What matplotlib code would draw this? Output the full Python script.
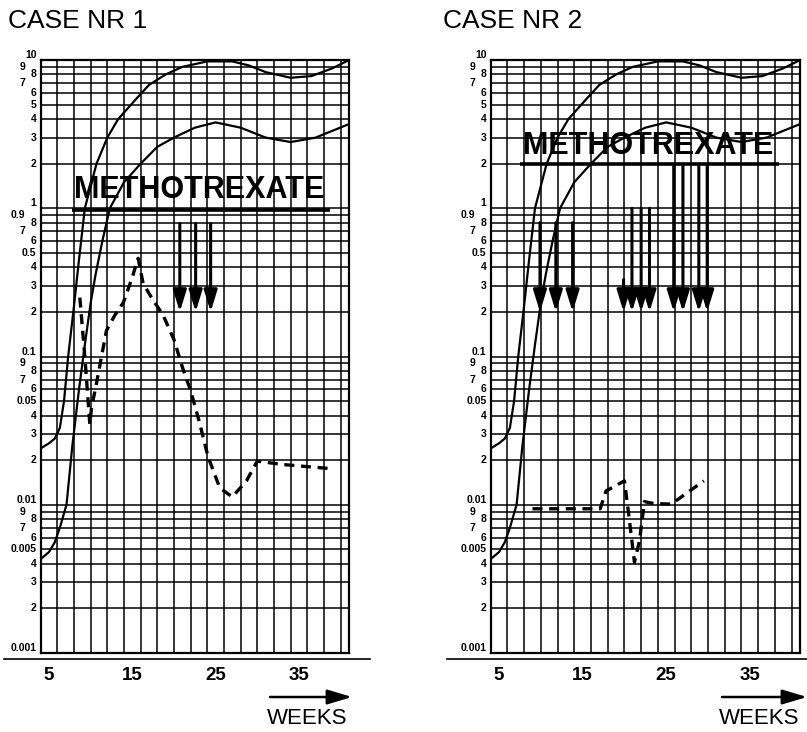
import matplotlib.pyplot as plt
from matplotlib.ticker import FixedLocator, NullFormatter

# Normal range curves printed on both charts (weeks, value)
upper_weeks = [4, 5, 5.7, 6.3, 6.8, 7.3, 8.0, 8.6, 9.3, 10.7, 12, 13.3, 15.5, 17, 19, 21, 24, 27, 29, 31, 34, 36.5, 39, 41]
upper_vals = [0.024, 0.026, 0.028, 0.033, 0.05, 0.1, 0.22, 0.45, 1.0, 2.0, 3.0, 4.0, 5.5, 6.8, 8.0, 9.0, 9.8, 9.8, 9.2, 8.3, 7.6, 7.8, 8.8, 10]
lower_weeks = [4, 5, 5.7, 6.3, 7.1, 7.8, 8.6, 9.3, 10.0, 10.6, 11.4, 12.3, 14, 16, 18, 20, 22.5, 25, 28, 31, 34, 37, 41]
lower_vals = [0.0043, 0.0048, 0.0056, 0.007, 0.01, 0.025, 0.06, 0.12, 0.23, 0.36, 0.6, 1.0, 1.5, 2.0, 2.6, 3.0, 3.5, 3.8, 3.5, 3.0, 2.8, 3.0, 3.7]

# Patient curves (dashed)
case1_weeks = [8.7, 9.3, 9.9, 10.1, 10.7, 11.3, 11.9, 12.9, 13.9, 14.9, 15.7, 16.3, 17.5, 18.7, 20, 21, 22, 23, 24.1, 25.5, 27, 28.7, 30, 33, 39]
case1_vals = [0.25, 0.1, 0.035, 0.045, 0.066, 0.1, 0.15, 0.19, 0.23, 0.33, 0.46, 0.31, 0.24, 0.19, 0.13, 0.085, 0.059, 0.037, 0.021, 0.013, 0.0113, 0.0145, 0.0197, 0.0187, 0.0175]
case2_weeks = [9, 17.1, 17.8, 20, 20.4, 21.2, 21.8, 22.4, 23.5, 25.6, 29.5]
case2_vals = [0.0094, 0.0094, 0.0124, 0.0145, 0.0097, 0.0041, 0.0057, 0.0105, 0.0102, 0.0101, 0.0145]

# Methotrexate doses: week and top of arrow shaft
mtx1_weeks = [20.7, 22.6, 24.4]
mtx1_top = [0.79, 0.79, 0.79]
mtx2_weeks = [9.9, 11.8, 13.8, 19.9, 20.9, 22, 23, 25.9, 27, 28.9, 29.9]
mtx2_top = [0.8, 0.8, 0.8, 0.33, 1.0, 1.0, 1.0, 1.92, 1.92, 1.92, 1.92]
arrow_tip = 0.2

week_ticks = [5, 15, 25, 35]
week_grid = list(range(4, 41, 2))
y_lines = [m * 10.0 ** e for e in range(-3, 1) for m in range(1, 10)] + [10]
y_labels = ["0.001", "2", "3", "4", "0.005", "6", "7", "8", "9",
            "0.01", "2", "3", "4", "0.05", "6", "7", "8", "9",
            "0.1", "2", "3", "4", "0.5", "6", "7", "8", "0.9",
            "1", "2", "3", "4", "5", "6", "7", "8", "9", "10"]

plt.rcParams['font.family'] = ['Liberation Sans', 'DejaVu Sans']

fig = plt.figure(figsize=(8.07, 7.32), dpi=100)

def draw_panel(ax, cw, cv, mw, mt, title_x, title, mtx_x, mtx_y, ul_x, ul_y):
    ax.set_yscale('log')
    ax.set_xlim(4, 41)
    ax.set_ylim(0.001, 10)
    ax.yaxis.set_major_locator(FixedLocator(y_lines))
    ax.yaxis.set_major_formatter(NullFormatter())
    ax.yaxis.set_minor_locator(FixedLocator([]))
    ax.xaxis.set_major_locator(FixedLocator(week_ticks))
    ax.xaxis.set_minor_locator(FixedLocator(week_grid))
    ax.set_xticklabels([str(t) for t in week_ticks], fontsize=13.5, fontweight='bold')
    ax.tick_params(axis='both', which='both', length=0)
    ax.tick_params(axis='x', pad=10)
    ax.grid(True, axis='y', which='major', color='black', lw=1.1)
    ax.grid(True, axis='x', which='minor', color='black', lw=1.1)
    for s in ax.spines.values():
        s.set_linewidth(1.6)

    # staggered labels like the printed log paper
    for v, lbl in zip(y_lines, y_labels):
        dx = 11 if lbl in ("9", "7", "0.9") else 3
        va = 'bottom' if lbl in ("0.001", "0.01", "0.1", "1", "10") else 'center'
        ax.annotate(lbl, xy=(0, v), xycoords=('axes fraction', 'data'),
                    xytext=(-dx, 0), textcoords='offset points',
                    ha='right', va=va, fontsize=7.5, fontweight='bold')

    ax.plot(upper_weeks, upper_vals, color='black', lw=1.6)
    ax.plot(lower_weeks, lower_vals, color='black', lw=1.6)
    ax.plot(cw, cv, color='black', lw=2.4, ls=(0, (3, 2)))

    for w, top in zip(mw, mt):
        ax.annotate('', xy=(w, arrow_tip), xytext=(w, top),
                    arrowprops=dict(arrowstyle='-|>,head_length=1.3,head_width=0.4',
                                    lw=2.2, color='black', shrinkA=0, shrinkB=0,
                                    mutation_scale=10))

    ax.text(mtx_x, mtx_y, "METHOTREXATE", fontsize=22, fontweight='bold',
            ha='center', va='bottom')
    ax.plot(ul_x, [ul_y, ul_y], color='black', lw=2.6, solid_capstyle='butt')

    fig.text(title_x, 0.9617, title, fontsize=19, ha='left', va='baseline')


ax1 = fig.add_axes([0.0504, 0.1079, 0.382, 0.810])
draw_panel(ax1, case1_weeks, case1_vals, mtx1_weeks, mtx1_top,
           0.0099, "CASE NR 1", 23.0, 1.06, [7.75, 38.7], 0.97)
ax2 = fig.add_axes([0.608, 0.1079, 0.3833, 0.810])
draw_panel(ax2, case2_weeks, case2_vals, mtx2_weeks, mtx2_top,
           0.549, "CASE NR 2", 22.8, 2.08, [7.5, 38.5], 1.98)

# baselines under the charts and the WEEKS arrows
fig.add_artist(plt.Line2D([0.005, 0.4585], [0.0997, 0.0997], color='black', lw=1.2))
fig.add_artist(plt.Line2D([0.554, 1.0], [0.0997, 0.0997], color='black', lw=1.2))
for x0, x1, xt in [(0.3346, 0.4362, 0.3804), (0.8947, 1.0, 0.9405)]:
    ax1.annotate('', xy=(x1, 0.0478), xytext=(x0, 0.0478), xycoords='figure fraction',
                 textcoords='figure fraction', annotation_clip=False,
                 arrowprops=dict(arrowstyle='-|>,head_length=1.5,head_width=0.45',
                                 lw=1.8, color='black', shrinkA=0, shrinkB=0,
                                 mutation_scale=10))
    fig.text(xt, 0.0178, "WEEKS", fontsize=16, ha='center', va='center')

fig.savefig('out.png', dpi=100, facecolor='white')
